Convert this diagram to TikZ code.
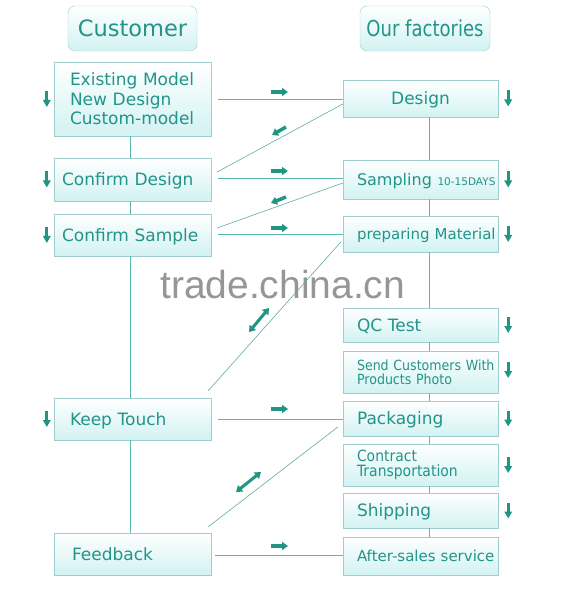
\documentclass[tikz,border=0pt]{standalone}
\usepackage{fontspec}
\setmainfont{DejaVu Sans}
\newfontfamily\narrowfont[FakeStretch=0.9]{DejaVu Sans}
\newfontfamily\headfont[FakeStretch=0.82]{DejaVu Sans}
\newfontfamily\markfont{Liberation Sans}
\usetikzlibrary{arrows.meta}
\definecolor{tealtext}{RGB}{34,148,138}
\definecolor{tealline}{RGB}{90,185,175}
\definecolor{tealmark}{RGB}{32,150,130}
\definecolor{boxedge}{RGB}{160,205,205}
\definecolor{boxfill}{RGB}{210,242,242}
\definecolor{wmark}{RGB}{150,150,150}

\begin{document}
\begin{tikzpicture}[x=1pt, y=-1pt,
  box/.style={draw=boxedge, top color=white, bottom color=boxfill, text=tealtext,
    inner ysep=0pt, text depth=0pt, font=\fontsize{17}{19}\selectfont},
  multi/.style={text depth=},
  lbox/.style={box, minimum width=157pt, align=left, inner xsep=8pt, text width=141pt},
  rbox/.style={box, minimum width=155pt, align=left, inner xsep=14pt, text width=127pt},
  head/.style={box, rounded corners=7pt, minimum width=130pt, minimum height=45pt, inner sep=0pt},
  link/.style={draw=tealline, line width=0.8pt},
  diag/.style={draw=tealline!75!gray, line width=0.6pt},
  hmark/.style={draw=tealmark, line width=3.5pt, -{Triangle[length=6pt,width=8pt]}},
  vmark/.style={draw=tealmark, line width=2.8pt, -{Triangle[length=7pt,width=7.5pt]}},
  dmark/.style={draw=tealmark, line width=3pt, {Triangle[length=6pt,width=8pt]}-{Triangle[length=6pt,width=8pt]}}
]
\useasboundingbox[fill=white] (0,0) rectangle (564,593);

% watermark
\node[anchor=base west, inner sep=0pt, text=wmark, font=\markfont\fontsize{39}{40}\selectfont]
  (wm) at (160,298) {trade.china.cn};

% column lines
\coordinate (ccol) at (130,0);
\coordinate (fcol) at (429,0);

% headers
\node[head, minimum width=129pt, font=\fontsize{22.5}{26}\selectfont] (cust) at (132.5,28.5) {Customer};
\node[head, font=\headfont\fontsize{22}{26}\selectfont] (fact) at (425,28.5) {Our factories};

% customer side
\node[lbox, multi, minimum height=74pt, inner xsep=16pt, text width=125pt, font=\fontsize{17}{19.5}\selectfont]
  (exist) at (132.5,99) {Existing Model\\New Design\\Custom-model};
\node[lbox, minimum height=43pt] (cdes) at (132.5,179.5) {\mbox{Confirm Design}};
\node[lbox, minimum height=42pt] (csam) at (132.5,235) {\mbox{Confirm Sample}};
\node[lbox, minimum height=42pt, inner xsep=16pt, text width=125pt] (keep) at (132.5,419) {Keep Touch};
\node[lbox, minimum height=42pt, inner xsep=18pt, text width=121pt] (feed) at (132.5,554) {Feedback};

% factory side
\node[rbox, minimum height=37pt, align=center] (design) at (420.5,98.5) {Design};
\node[rbox, minimum height=39pt] (samp) at (420.5,179.5)
  {\mbox{\fontsize{16}{19}\selectfont Sampling \fontsize{10.5}{12}\selectfont 10-15DAYS}};
\node[rbox, minimum height=36pt, font=\fontsize{15}{18}\selectfont] (prep) at (420.5,234) {\mbox{preparing Material}};
\node[rbox, minimum height=34pt] (qc) at (420.5,325) {QC Test};
\node[rbox, multi, minimum height=42pt, font=\narrowfont\fontsize{14}{14}\selectfont]
  (send) at (420.5,372) {\mbox{Send Customers With}\\Products Photo};
\node[rbox, minimum height=35pt] (pack) at (420.5,418.5) {Packaging};
\node[rbox, multi, minimum height=42pt, font=\narrowfont\fontsize{15.5}{15}\selectfont]
  (contr) at (420.5,465) {Contract\\\mbox{Transportation}};
\node[rbox, minimum height=35pt] (ship) at (420.5,510.5) {Shipping};
\node[rbox, minimum height=38pt, font=\fontsize{15}{18}\selectfont] (after) at (420.5,556) {\mbox{After-sales service}};

% vertical links
\draw[link] (exist.south -| ccol) -- (cdes.north -| ccol);
\draw[link] (cdes.south -| ccol) -- (csam.north -| ccol);
\draw[link] (csam.south -| ccol) -- (keep.north -| ccol);
\draw[link] (keep.south -| ccol) -- (feed.north -| ccol);
\draw[link] (design.south -| fcol) -- (samp.north -| fcol);
\draw[link] (samp.south -| fcol) -- (prep.north -| fcol);
\draw[link] (prep.south -| fcol) -- (qc.north -| fcol);
\draw[link] (qc.south -| fcol) -- (send.north -| fcol);
\draw[link] (send.south -| fcol) -- (pack.north -| fcol);
\draw[link] (pack.south -| fcol) -- (contr.north -| fcol);
\draw[link] (contr.south -| fcol) -- (ship.north -| fcol);
\draw[link] (ship.south -| fcol) -- (after.north -| fcol);

% horizontal links
\draw[link, shorten <=7pt] (exist.east) -- (exist.east -| design.west);
\draw[link, shorten <=7pt] ([yshift=1.5pt]cdes.east) -- ([yshift=1.5pt]cdes.east -| samp.west);
\draw[link, shorten <=7pt] ([yshift=1pt]csam.east) -- ([yshift=1pt]csam.east -| prep.west);
\draw[link, shorten <=7pt] (keep.east) -- (keep.east -| pack.west);
\draw[link, shorten <=4pt] ([yshift=-1pt]feed.east) -- ([yshift=-1pt]feed.east -| after.west);

% diagonal links
\draw[diag] ([yshift=-5.5pt]design.west) -- ([xshift=6pt,yshift=7.5pt]cdes.east);
\draw[diag] ([yshift=-3.5pt]samp.west) -- ([xshift=6pt,yshift=7pt]csam.east);
\draw[diag] ([xshift=-2pt,yshift=-8pt]prep.west) -- ([xshift=-3pt,yshift=7pt]keep.north east);
\draw[diag] ([xshift=-5pt,yshift=-8.5pt]pack.west) -- ([xshift=-3pt,yshift=6pt]feed.north east);

% direction marks
\draw[hmark] (271,92) -- (288,92);
\draw[hmark] (271,171) -- (288,171);
\draw[hmark] (271,228) -- (288,228);
\draw[hmark] (271,409) -- (288,409);
\draw[hmark] (271,546) -- (288,546);
\draw[hmark] (286,127) -- (272,135);
\draw[hmark] (286,197) -- (271,203);
\draw[dmark] (249,332) -- (269,308);
\draw[dmark] (236,492) -- (261,472);

\draw[vmark] ([xshift=-7pt,yshift=8pt]exist.west) -- ++(0,16);
\draw[vmark] ([xshift=-7pt,yshift=8pt]cdes.west) -- ++(0,16);
\draw[vmark] ([xshift=-7pt,yshift=8pt]csam.west) -- ++(0,16);
\draw[vmark] ([xshift=-7pt,yshift=8pt]keep.west) -- ++(0,16);
\draw[vmark] ([xshift=10pt,yshift=8pt]design.east) -- ++(0,16);
\draw[vmark] ([xshift=10pt,yshift=8pt]samp.east) -- ++(0,16);
\draw[vmark] ([xshift=10pt,yshift=8pt]prep.east) -- ++(0,16);
\draw[vmark] ([xshift=10pt,yshift=8pt]qc.east) -- ++(0,16);
\draw[vmark] ([xshift=10pt,yshift=10pt]send.east) -- ++(0,16);
\draw[vmark] ([xshift=10pt,yshift=8pt]pack.east) -- ++(0,16);
\draw[vmark] ([xshift=10pt,yshift=8pt]contr.east) -- ++(0,16);
\draw[vmark] ([xshift=10pt,yshift=8pt]ship.east) -- ++(0,16);
\end{tikzpicture}
\end{document}
